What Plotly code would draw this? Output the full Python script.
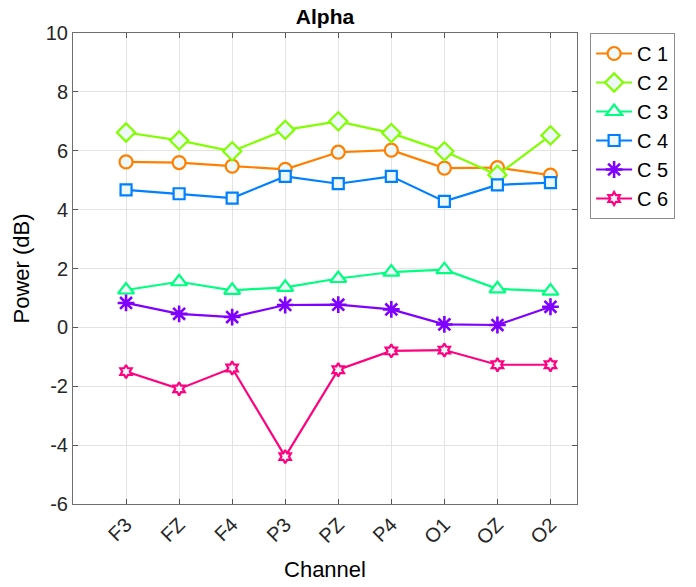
import plotly.graph_objects as go

channels = ["F3", "FZ", "F4", "P3", "PZ", "P4", "O1", "OZ", "O2"]
positions = [1, 2, 3, 4, 5, 6, 7, 8, 9]
c1 = [5.62, 5.60, 5.48, 5.37, 5.95, 6.02, 5.41, 5.43, 5.17]
c2 = [6.62, 6.35, 5.98, 6.71, 7.00, 6.60, 5.98, 5.18, 6.52]
c3 = [1.27, 1.55, 1.26, 1.36, 1.66, 1.88, 1.96, 1.31, 1.23]
c4 = [4.67, 4.54, 4.39, 5.13, 4.88, 5.13, 4.28, 4.84, 4.92]
c5 = [0.83, 0.46, 0.35, 0.76, 0.77, 0.61, 0.10, 0.08, 0.70]
c6 = [-1.50, -2.09, -1.38, -4.39, -1.44, -0.80, -0.77, -1.27, -1.27]
names = ["C 1", "C 2", "C 3", "C 4", "C 5", "C 6"]
y_ticks = [-6, -4, -2, 0, 2, 4, 6, 8, 10]
y_tick_labels = ["-6", "-4", "-2", "0", "2", "4", "6", "8", "10"]

series = [c1, c2, c3, c4, c5, c6]
colors = ["#FF8000", "#80FF00", "#00FF80", "#0080FF", "#8000FF", "#FF0080"]
symbols = ["circle", "diamond", "triangle-up", "square", "asterisk-open", "hexagram"]
sizes = [13, 14, 14, 11, 14, 10]
face = "#eef8f8"

fig = go.Figure()
for vals, name, col, sym, sz in zip(series, names, colors, symbols, sizes):
    fig.add_trace(go.Scatter(
        x=positions, y=vals, name=name, mode="lines+markers",
        line=dict(color=col, width=2.2),
        marker=dict(symbol=sym, size=sz, color=(col if sym == "asterisk-open" else face),
                    line=dict(color=col, width=(2.6 if sym == "asterisk-open" else 2.2))),
    ))

font = "Liberation Sans, Arial, Helvetica, sans-serif"
fig.update_layout(
    width=696, height=587,
    margin=dict(l=73, r=119, t=33, b=83, autoexpand=False),
    paper_bgcolor="white", plot_bgcolor="white",
    font=dict(family=font, color="#262626", size=19),
    title=dict(text="<b>Alpha</b>", x=0.5 * (73 + 577) / 696, xanchor="center",
               y=1 - 17 / 587, yanchor="middle", font=dict(size=21, color="black")),
    showlegend=True,
    legend=dict(x=1.026, y=1, xanchor="left", yanchor="top",
                bordercolor="#8c8c8c", borderwidth=1, bgcolor="white",
                font=dict(size=20, color="black"), tracegroupgap=0,
                itemwidth=36),
)
fig.update_xaxes(
    range=[0, 9.5], tickmode="array", tickvals=positions, ticktext=channels,
    tickangle=-45, ticks="inside", ticklen=5, tickcolor="#555",
    showline=True, linecolor="#6e6e6e", linewidth=1, mirror="ticks",
    showgrid=True, gridcolor="#e3e3e3", gridwidth=1, zeroline=False,
    automargin=False,
    title=dict(text="Channel", font=dict(size=22, color="black"), standoff=14),
    tickfont=dict(size=20, color="#262626"),
)
fig.update_yaxes(
    range=[-6, 10], tickmode="array", tickvals=y_ticks, ticktext=y_tick_labels,
    ticks="inside", ticklen=5, tickcolor="#555",
    showline=True, linecolor="#6e6e6e", linewidth=1, mirror="ticks",
    showgrid=True, gridcolor="#e3e3e3", gridwidth=1, zeroline=False,
    automargin=False,
    title=dict(text="Power (dB)", font=dict(size=22, color="black"), standoff=10),
    tickfont=dict(size=20, color="#262626"),
)
fig.write_html("out.html", config={"displayModeBar": False},
               post_script="document.body.style.margin='0';document.body.style.overflow='hidden';")
